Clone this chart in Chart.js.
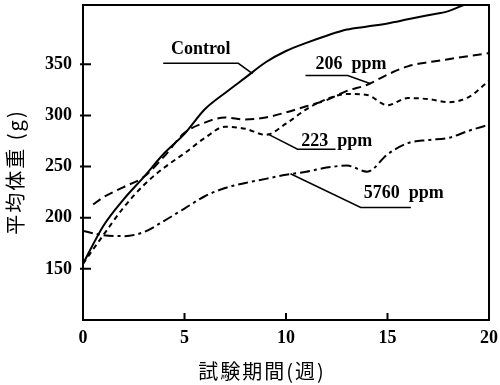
<!DOCTYPE html>
<html>
<head>
<meta charset="utf-8">
<script src="https://cdn.jsdelivr.net/npm/chart.js@4"></script>
<style>
  html, body { margin: 0; background: #fff; }
</style>
</head>
<body>
<canvas id="c" width="500" height="385"></canvas>
<script>
// weeks on the x axis
const weeks = [0, 1, 2, 3, 4, 5, 6, 7, 8, 9, 10, 11, 12, 13, 14, 15, 16, 17, 18, 19, 20];
const weeks206 = [0.5, 1, 2, 3, 4, 5, 6, 7, 8, 9, 10, 11, 12, 13, 14, 15, 16, 17, 18, 19, 20];

// mean body weight (g)
const control = [155, 192, 218, 240, 263, 282, 306, 322, 337, 352, 363, 371, 378, 384, 387, 390, 394, 398, 402, 410, 416];
const ppm206 = [213, 220, 230, 240, 260, 283, 293, 298, 296, 298, 303, 309, 315, 324, 330, 340, 348, 352, 355, 358, 361];
const ppm223 = [155, 183, 210, 232, 249, 263, 278, 289, 287, 281, 292, 306, 316, 321, 320, 310, 317, 316, 313, 318, 334];
const ppm5760 = [187, 183, 182, 186, 197, 209, 221, 229, 234, 238, 242, 245, 249, 251, 245, 262, 273, 276, 278, 285, 291];

const xTicks = [0, 5, 10, 15, 20];
const yTicks = [150, 200, 250, 300, 350];

const xTitle = '試験期間(週)';
const yTitle = '平均体重 (g)';

const tickFont = { family: '"Liberation Serif", serif', size: 18, weight: 'bold' };
const noteFont = 'bold 18px "Liberation Serif", serif';
const titleFont = '20px "Noto Sans CJK JP", sans-serif';

function pts(xs, ys) {
    return xs.map((x, i) => ({ x: x, y: ys[i] }));
}

// labels with leader lines, in data units
const notes = [
    { text: 'Control', at: [5.8, 365], path: [[3.95, 351], [7.65, 351], [8.35, 341]] },
    { text: '206  ppm', at: [13.2, 350], path: [[10.96, 339], [13.04, 339], [14.17, 331]] },
    { text: '223  ppm', at: [12.5, 275], path: [[9.09, 282], [10.57, 267], [12.44, 267]] },
    { text: '5760  ppm', at: [15.8, 224], path: [[10.22, 243], [13.68, 210], [16.15, 210]] },
];

const extras = {
    id: 'extras',
    afterDatasetsDraw(chart) {
        const ctx = chart.ctx;
        const a = chart.chartArea;
        const xs = chart.scales.x;
        const ys = chart.scales.y;
        ctx.save();
        ctx.strokeStyle = '#000';
        ctx.fillStyle = '#000';

        // frame
        ctx.lineWidth = 2;
        ctx.strokeRect(a.left, a.top, a.right - a.left, a.bottom - a.top);

        // inward ticks
        ctx.beginPath();
        yTicks.forEach(v => {
            const y = ys.getPixelForValue(v);
            ctx.moveTo(a.left - 3, y);
            ctx.lineTo(a.left + 8, y);
        });
        xTicks.slice(1, -1).forEach(v => {
            const x = xs.getPixelForValue(v);
            ctx.moveTo(x, a.bottom);
            ctx.lineTo(x, a.bottom - 7);
        });
        ctx.stroke();

        // leader lines and labels
        ctx.lineWidth = 1.5;
        notes.forEach(n => {
            ctx.beginPath();
            n.path.forEach((p, i) => {
                const px = xs.getPixelForValue(p[0]);
                const py = ys.getPixelForValue(p[1]);
                if (i === 0) ctx.moveTo(px, py); else ctx.lineTo(px, py);
            });
            ctx.stroke();
            ctx.font = noteFont;
            ctx.textAlign = 'center';
            ctx.textBaseline = 'middle';
            ctx.fillText(n.text, xs.getPixelForValue(n.at[0]), ys.getPixelForValue(n.at[1]));
        });

        // axis titles
        ctx.font = titleFont;
        ctx.letterSpacing = '2px';
        ctx.textAlign = 'center';
        ctx.textBaseline = 'middle';
        ctx.fillText(xTitle, 262, 371);
        ctx.translate(15, 172);
        ctx.rotate(-Math.PI / 2);
        ctx.fillText(yTitle, 0, 0);
        ctx.restore();
    }
};

const config = {
    type: 'line',
    data: {
        datasets: [
            { label: 'Control', data: pts(weeks, control), borderDash: [] },
            { label: '206 ppm', data: pts(weeks206, ppm206), borderDash: [9, 5] },
            { label: '223 ppm', data: pts(weeks, ppm223), borderDash: [5, 4] },
            { label: '5760 ppm', data: pts(weeks, ppm5760), borderDash: [10, 4, 3, 4] },
        ]
    },
    options: {
        responsive: false,
        animation: false,
        devicePixelRatio: 1,
        layout: { padding: { top: 5, right: 11, left: 0, bottom: 0 } },
        elements: {
            line: { borderColor: '#000', borderWidth: 2, cubicInterpolationMode: 'monotone', fill: false },
            point: { radius: 0 }
        },
        plugins: {
            legend: { display: false },
            tooltip: { enabled: false }
        },
        scales: {
            x: {
                type: 'linear',
                min: 0,
                max: 20,
                afterBuildTicks: s => { s.ticks = xTicks.map(v => ({ value: v })); },
                afterFit: s => { s.height = 65; s.paddingLeft = 0; s.paddingRight = 0; },
                grid: { display: false, drawTicks: false },
                border: { display: false },
                ticks: { font: tickFont, color: '#000', padding: 8, maxRotation: 0 }
            },
            y: {
                type: 'linear',
                min: 100,
                max: 408,
                afterBuildTicks: s => { s.ticks = yTicks.map(v => ({ value: v })); },
                afterFit: s => { s.width = 83; s.paddingTop = 0; s.paddingBottom = 0; },
                grid: { display: false, drawTicks: false },
                border: { display: false },
                ticks: { font: tickFont, color: '#000', padding: 11 }
            }
        }
    },
    plugins: [extras]
};

const myChart = new Chart(document.getElementById('c'), config);
</script>
</body>
</html>
